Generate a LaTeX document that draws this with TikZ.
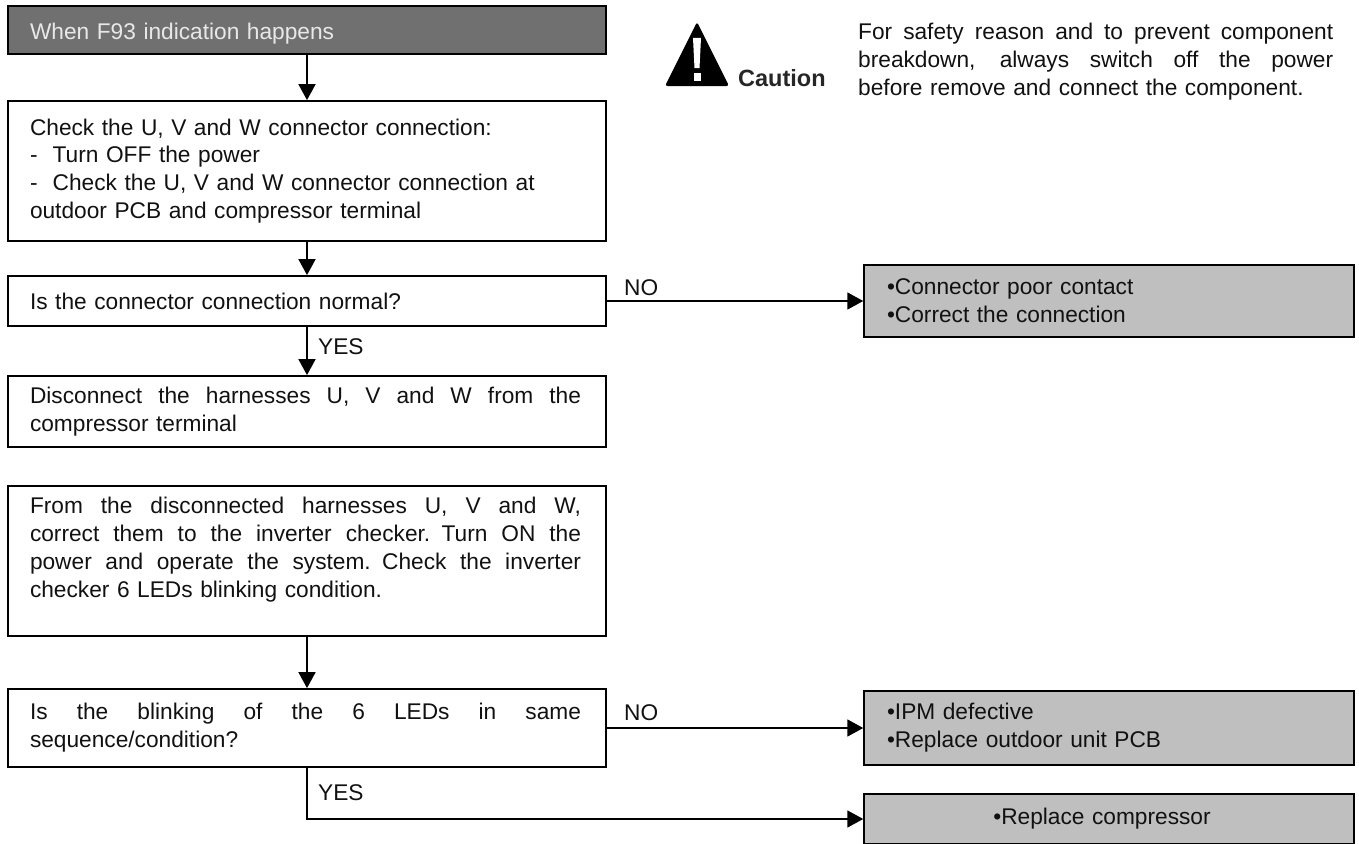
\documentclass[tikz,border=0pt]{standalone}
\usepackage{fontspec}
\setmainfont{Liberation Sans}
\usetikzlibrary{arrows.meta}
\newcommand{\jline}[1]{\leavevmode\hbox to 551pt{\spaceskip=0.28em plus 1fil\relax #1}}
\newcommand{\cautionline}[1]{\leavevmode\hbox to 475pt{\spaceskip=0.28em plus 1fil\relax #1}}
\definecolor{darkbar}{HTML}{707070}
\definecolor{greybox}{HTML}{BFBFBF}
\definecolor{barink}{HTML}{E8E8E8}
\definecolor{ink}{HTML}{111111}
\tikzset{
  x=1pt,y=-1pt,
  txt/.style={font=\fontsize{22.7}{27.8}\selectfont,text=ink},
  flowbox/.style={draw=black,line width=1.8pt,txt,minimum width=598pt,inner xsep=0pt,inner ysep=0pt,text width=554pt,align=left,anchor=center},
  sidebox/.style={draw=black,line width=1.5pt,fill=greybox,txt,minimum width=490pt,inner xsep=0pt,inner ysep=0pt,text width=444pt,align=left,anchor=center},
  link/.style={draw=black,line width=1.8pt,-{Stealth[length=16pt,width=17pt,inset=0pt]}},
  plain/.style={txt,inner sep=0pt,anchor=west},
}
\begin{document}
\begin{tikzpicture}
\useasboundingbox (0,0) rectangle (1359,843);
\node[flowbox,fill=darkbar,text=barink,minimum height=48pt] (start) at (307,30) {\raisebox{-4pt}[\height][\depth]{When F93 indication happens}};
\node[flowbox,minimum height=140pt] (check) at (307,171) {Check the U, V and W connector connection:\\- \ Turn OFF the power\\- \ Check the U, V and W connector connection at\\outdoor PCB and compressor terminal};
\node[flowbox,minimum height=50pt] (normal) at (307,301) {Is the connector connection normal?};
\node[flowbox,minimum height=71pt] (disc) at (307,411.5) {\jline{Disconnect the harnesses U, V and W from the}\\compressor terminal};
\node[flowbox,minimum height=150pt] (harness) at (307,561) {\jline{From the disconnected harnesses U, V and W,}\\\jline{correct them to the inverter checker. Turn ON the}\\\jline{power and operate the system. Check the inverter}\\checker 6 LEDs blinking condition.\\~};
\node[flowbox,minimum height=78pt] (blink) at (307,728) {\jline{Is the blinking of the 6 LEDs in same}\\sequence/condition?};
\node[sidebox,minimum height=72pt] (poor) at (1109,301) {•Connector poor contact\\•Correct the connection};
\node[sidebox,minimum height=74pt] (ipm) at (1109,728) {•IPM defective\\•Replace outdoor unit PCB};
\node[sidebox,minimum height=50pt,align=center,text width=490pt] (comp) at (1109,819) {\hspace*{-14pt}•Replace compressor};
\draw[link] (start) -- (check);
\draw[link] (check) -- (normal);
\draw[link] (normal) -- (disc);
\draw[link] (harness) -- (blink);
\draw[link] (normal) -- (poor);
\draw[link] (blink) -- (ipm);
\draw[link] (blink.south) |- (comp.west);
\node[plain] (no1) at (624,288) {NO};
\node[plain] (no2) at (624,713) {NO};
\node[plain] (yes1) at (318,347) {YES};
\node[plain] (yes2) at (318,793) {YES};
\fill[black,rounded corners=2.5pt] (697,22) -- (729,86) -- (665,86) -- cycle;
\fill[white] (693,38) -- (701,38) -- (699.5,68) -- (694.5,68) -- cycle;
\fill[white] (693.5,73) rectangle (700.5,81);
\node[plain,font=\bfseries\fontsize{23.5}{26}\selectfont,text=black!85] (caution) at (738,78) {Caution};
\node[plain,anchor=north west,txt,align=left,text width=476pt] (safety) at (858,23) {\cautionline{For safety reason and to prevent component}\\\cautionline{breakdown, always switch off the power}\\before remove and connect the component.};
\end{tikzpicture}
\end{document}
